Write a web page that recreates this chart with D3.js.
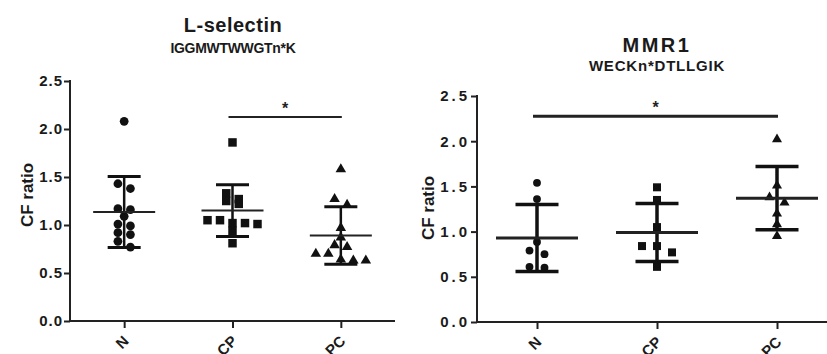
<!DOCTYPE html>
<html>
<head>
<meta charset="utf-8">
<script src="https://cdn.jsdelivr.net/npm/d3@7"></script>
<style>
  body { margin: 0; background: #fff; }
  svg { display: block; font-family: "Liberation Sans", Arial, sans-serif; }
</style>
</head>
<body>
<div class="wrapper"></div>
<script>
// groups on the x axis
var groups = ["N", "CP", "PC"];
var yTicks = [0, 0.5, 1.0, 1.5, 2.0, 2.5];

// L-selectin, IGGMWTWWGTn*K
var lselN = [2.08, 1.43, 1.38, 1.16, 1.17, 1.09, 1.01, 0.99, 0.90, 0.92, 0.77, 0.83];
var lselCP = [1.86, 1.33, 1.27, 1.25, 1.22, 1.05, 1.05, 1.02, 1.02, 1.01, 0.94, 0.81];
var lselPC = [1.58, 1.27, 1.21, 0.97, 0.87, 0.79, 0.77, 0.70, 0.70, 0.64, 0.63, 0.63];
var lselMean = [1.135, 1.15, 0.89];
var lselSD = [0.37, 0.27, 0.30];
var lselSig = { from: "CP", to: "PC", level: 2.125, label: "*" };

// MMR1, WECKn*DTLLGIK
var mmrN = [1.54, 1.36, 0.885, 0.79, 0.75, 0.61, 0.60];
var mmrCP = [1.49, 1.35, 1.05, 0.84, 0.84, 0.77, 0.61];
var mmrPC = [2.02, 1.51, 1.38, 1.32, 1.20, 1.08, 0.95];
var mmrMean = [0.93, 0.99, 1.37];
var mmrSD = [0.37, 0.32, 0.35];
var mmrSig = { from: "N", to: "PC", level: 2.275, label: "*" };

var width = 827, height = 354;
var shapes = [d3.symbolCircle, d3.symbolSquare, d3.symbolTriangle];

var svg = d3.select(".wrapper").append("svg")
  .attr("width", width)
  .attr("height", height);

/**
 * Spreads points sideways in rows, the way a scatter dot plot does.
 */
function swarm(values, y, cx, spacing, rowH) {
  var pts = values.map(v => ({ v: v, py: y(v) })).sort((a, b) => a.py - b.py);
  var rows = [];
  pts.forEach(p => {
    var row = rows[rows.length - 1];
    if (row && p.py - row[0].py < rowH) row.push(p);
    else rows.push([p]);
  });
  rows.forEach(row => {
    row.forEach((p, i) => { p.px = cx + (i - (row.length - 1) / 2) * spacing; });
  });
  return pts;
}

/**
 * Draws one panel: axes, titles, points, mean and SD bars and the significance line.
 */
function drawPanel(opt) {
  var g = svg.append("g");

  var y = d3.scaleLinear().domain([0, 2.5]).range([opt.y0, opt.yTop]);
  var x = d3.scalePoint().domain(groups).range([opt.left, opt.right]).padding(0.5);

  // titles
  g.append("text")
    .attr("x", opt.titleX).attr("y", opt.titleY)
    .attr("text-anchor", "middle")
    .style("font-size", "20px").style("font-weight", "bold")
    .style("letter-spacing", opt.titleSpacing)
    .attr("fill", "#1a1a1a")
    .text(opt.title);
  g.append("text")
    .attr("x", opt.titleX).attr("y", opt.subY)
    .attr("text-anchor", "middle")
    .style("font-size", opt.subSize).style("font-weight", "bold")
    .style("letter-spacing", opt.subSpacing)
    .attr("fill", "#1a1a1a")
    .text(opt.sub);

  // y axis
  var yAxis = g.append("g")
    .attr("transform", `translate(${opt.left},0)`)
    .call(d3.axisLeft(y).tickValues(yTicks).tickFormat(d3.format(".1f")).tickSize(6).tickPadding(1));
  yAxis.select(".domain").attr("stroke", "#222").attr("stroke-width", 2)
    .attr("d", `M0,${opt.y0}V${opt.yTop - 1}`);
  yAxis.selectAll(".tick line").attr("stroke", "#222").attr("stroke-width", 2);
  yAxis.selectAll(".tick text")
    .attr("fill", "#1a1a1a")
    .style("font-size", "15px").style("font-weight", "bold")
    .style("letter-spacing", opt.tickSpacing);

  // y label
  g.append("text")
    .attr("transform", `translate(${opt.labelX},${opt.labelY}) rotate(-90)`)
    .attr("text-anchor", "middle")
    .style("font-size", "17px").style("font-weight", "bold")
    .attr("fill", "#1a1a1a")
    .text("CF ratio");

  // x axis
  var xAxis = g.append("g")
    .attr("transform", `translate(0,${opt.y0})`)
    .call(d3.axisBottom(x).tickSize(7).tickSizeOuter(0));
  xAxis.select(".domain").attr("stroke", "#222").attr("stroke-width", 2)
    .attr("d", `M${opt.left - 1},0H${opt.right}`);
  xAxis.selectAll(".tick line").attr("stroke", "#222").attr("stroke-width", 2);
  xAxis.selectAll(".tick text")
    .attr("y", 0).attr("dy", 0)
    .attr("transform", "translate(5,21) rotate(-45)")
    .attr("text-anchor", "end")
    .attr("fill", "#1a1a1a")
    .style("font-size", "15px").style("font-weight", "bold");

  // points
  opt.series.forEach((vals, i) => {
    var pts = swarm(vals, y, x(groups[i]), opt.spacing, opt.rowH);
    g.selectAll(null).data(pts).enter().append("path")
      .attr("d", d3.symbol().type(shapes[i]).size(opt.sizes[i]))
      .attr("transform", d => `translate(${d.px},${d.py})`)
      .attr("fill", "#111");
  });

  // mean and SD
  groups.forEach((grp, i) => {
    var cx = x(grp), m = opt.mean[i], s = opt.sd[i];
    g.append("line")
      .attr("x1", cx).attr("x2", cx).attr("y1", y(m + s)).attr("y2", y(m - s))
      .attr("stroke", "#111").attr("stroke-width", opt.barW);
    [m + s, m - s].forEach(v => {
      g.append("line")
        .attr("x1", cx - opt.capHalf).attr("x2", cx + opt.capHalf)
        .attr("y1", y(v)).attr("y2", y(v))
        .attr("stroke", "#111").attr("stroke-width", opt.capW);
    });
    g.append("line")
      .attr("x1", cx - opt.meanHalf).attr("x2", cx + opt.meanHalf)
      .attr("y1", y(m)).attr("y2", y(m))
      .attr("stroke", "#222").attr("stroke-width", opt.meanW);
  });

  // significance
  var sig = opt.sig;
  var x1 = x(sig.from) - 4, x2 = x(sig.to) + 1;
  g.append("line")
    .attr("x1", x1).attr("x2", x2).attr("y1", y(sig.level)).attr("y2", y(sig.level))
    .attr("stroke", "#222").attr("stroke-width", opt.sigW);
  g.append("text")
    .attr("x", (x1 + x2) / 2).attr("y", y(sig.level) - 3)
    .attr("text-anchor", "middle")
    .style("font-size", "16px").style("font-weight", "bold")
    .attr("fill", "#222")
    .text(sig.label);
}

drawPanel({
  title: "L-selectin", sub: "IGGMWTWWGTn*K",
  titleX: 233, titleY: 32, subY: 53, subSize: "14px", titleSpacing: "0.5px", subSpacing: "-0.3px",
  left: 70, right: 395, y0: 321, yTop: 81,
  labelX: 33, labelY: 195, tickSpacing: "1px",
  series: [lselN, lselCP, lselPC], mean: lselMean, sd: lselSD, sig: lselSig,
  spacing: 12.5, rowH: 7, sizes: [60, 72, 48],
  barW: 2.5, capW: 3, meanW: 2, meanHalf: 31, capHalf: 16.5, sigW: 2
});

drawPanel({
  title: "MMR1", sub: "WECKn*DTLLGIK",
  titleX: 657, titleY: 52, subY: 71, subSize: "15px", titleSpacing: "2.5px", subSpacing: "0.8px",
  left: 477, right: 837, y0: 322, yTop: 96,
  labelX: 434, labelY: 208, tickSpacing: "3px",
  series: [mmrN, mmrCP, mmrPC], mean: mmrMean, sd: mmrSD, sig: mmrSig,
  spacing: 15, rowH: 7, sizes: [48, 64, 44],
  barW: 3.5, capW: 3.5, meanW: 3, meanHalf: 41, capHalf: 21.5, sigW: 3
});
</script>
</body>
</html>
